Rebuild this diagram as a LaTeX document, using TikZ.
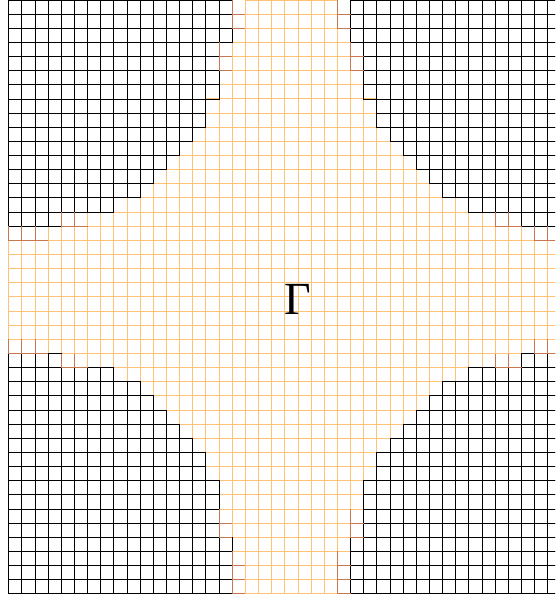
\documentclass[tikz,border=0pt]{standalone}
\usepackage{fontspec}
\setmainfont{Liberation Serif}
\definecolor{gridorange}{RGB}{255,195,120}
\definecolor{gridbrown}{RGB}{200,120,80}
\begin{document}
\begin{tikzpicture}[x=13.15pt,y=-14.14pt,
  ocell/.style={draw=gridorange,line width=1.0pt},
  bcell/.style={draw=black,line width=0.95pt},
  mcell/.style={draw=gridbrown,line width=1.0pt},
  gammalabel/.style={inner sep=0pt,font=\fontsize{46}{46}\selectfont}]
\useasboundingbox (-0.6616,0) rectangle (41.545,42.29);
\def\thr{{99,99,99,99,99,18,14,12,11,10,9,8,7,7,6,6,6,6,5,5,5,5}}
\begin{scope}
\clip (-0.6616,0) rectangle (41.545,42.29);
% orange cells
\foreach \i in {0,...,41}{\foreach \r in {0,...,41}{
  \pgfmathtruncatemacro\ii{\i+1}
  \pgfmathtruncatemacro\rr{\r+1}
  \pgfmathtruncatemacro\dx{abs(\i-21)}
  \pgfmathtruncatemacro\dy{abs(\r-20)}
  \pgfmathtruncatemacro\T{\thr[\dy]}
  \pgfmathtruncatemacro\brn{(\dx==4)*(\dy>=19)+(\dy==4)*(\dx>=19)+(\dx==5)*(\dy>=16)*(\dy<=17)+(\dy==5)*(\dx>=16)*(\dx<=17)}
  \ifnum\dx<\T \ifnum\brn=0 \draw[ocell] (\i,\r) rectangle (\ii,\rr); \fi\fi
}}
% black cells
\foreach \i in {0,...,41}{\foreach \r in {0,...,41}{
  \pgfmathtruncatemacro\ii{\i+1}
  \pgfmathtruncatemacro\rr{\r+1}
  \pgfmathtruncatemacro\dx{abs(\i-21)}
  \pgfmathtruncatemacro\dy{abs(\r-20)}
  \pgfmathtruncatemacro\T{\thr[\dy]}
  \ifnum\dx<\T \else \draw[bcell] (\i,\r) rectangle (\ii,\rr); \fi
}}
% mixed boundary cells: left and bottom edges
\foreach \i in {0,...,41}{\foreach \r in {0,...,41}{
  \pgfmathtruncatemacro\ii{\i+1}
  \pgfmathtruncatemacro\rr{\r+1}
  \pgfmathtruncatemacro\dx{abs(\i-21)}
  \pgfmathtruncatemacro\dy{abs(\r-20)}
  \pgfmathtruncatemacro\brn{(\dx==4)*(\dy>=19)+(\dy==4)*(\dx>=19)+(\dx==5)*(\dy>=16)*(\dy<=17)+(\dy==5)*(\dx>=16)*(\dx<=17)}
  \ifnum\brn>0 \draw[mcell] (\i,\r) -- (\i,\rr) -- (\ii,\rr); \fi
}}
\end{scope}
\node[gammalabel] (G) at (22.0,21.15) {Γ};
\end{tikzpicture}
\end{document}
